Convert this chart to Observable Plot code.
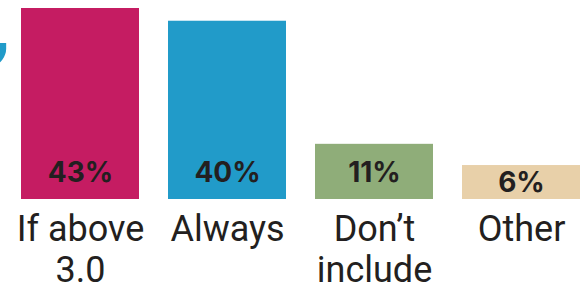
<!DOCTYPE html>
<html>
<head>
<meta charset="utf-8">
<script src="https://cdn.jsdelivr.net/npm/d3@7"></script>
<script src="https://cdn.jsdelivr.net/npm/@observablehq/plot@0.6"></script>
<style>
  html, body { margin: 0; padding: 0; background: #fff; }
</style>
</head>
<body>
<div id="chart"></div>
<script>
const categories = ["If above\n3.0", "Always", "Don’t\ninclude", "Other"];
const values = [43, 40, 11, 6];
const valueLabels = ["43%", "40%", "11%", "6%"];
const colors = ["#c51c62", "#219bc9", "#8fad79", "#e8d0a9"];
const baseline = -2;

const data = categories.map((c, i) => ({
  cat: c,
  value: values[i],
  label: valueLabels[i],
  labelY: (baseline + Math.min(values[i], 11)) / 2
}));

const chart = Plot.plot({
  width: 583,
  height: 291,
  marginTop: 8,
  marginBottom: 92,
  marginLeft: 21,
  marginRight: 3,
  style: { fontFamily: "Roboto", background: "#fff", overflow: "visible" },
  x: { domain: categories, paddingInner: 0.2, paddingOuter: 0, axis: null },
  y: { domain: [baseline, 43], axis: null },
  color: { domain: categories, range: colors },
  marks: [
    Plot.barY(data, { x: "cat", y1: baseline, y2: "value", fill: "cat" }),
    Plot.text(data, {
      x: "cat", y: "labelY", text: "label",
      fontSize: 28, fontWeight: "bold", fill: "#231f20",
      fontFamily: "Inter", dy: 1
    }),
    Plot.text(data, {
      x: "cat", y: baseline, text: "cat",
      lineAnchor: "top", dy: 13, lineHeight: 1.13,
      fontSize: 36, fill: "#231f20"
    }),
    Plot.text(["’"], {
      frameAnchor: "top-left", dx: -30, dy: 38,
      fontSize: 80, fontWeight: "bold", fill: "#219bc9"
    })
  ]
});
document.getElementById("chart").appendChild(chart);
</script>
</body>
</html>
